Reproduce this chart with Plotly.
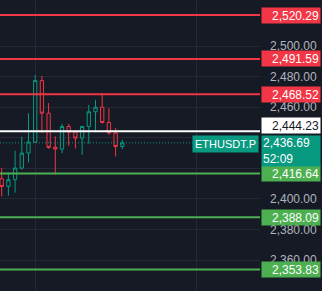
import plotly.graph_objects as go

# ---- data ----
idx = list(range(19))
opens  = [2413.2, 2408.2, 2412.6, 2420.2, 2430.0, 2437.2, 2477.4, 2456.1, 2433.9, 2432.6,
          2447.4, 2443.7, 2439.8, 2447.4, 2457.0, 2460.0, 2450.0, 2443.1, 2434.3]
highs  = [2420.4, 2417.2, 2431.5, 2440.7, 2456.1, 2481.1, 2480.5, 2462.7, 2440.9, 2449.1,
          2449.1, 2444.5, 2447.8, 2461.5, 2464.8, 2469.2, 2459.4, 2446.3, 2438.7]
lows   = [2401.7, 2402.1, 2404.1, 2419.1, 2423.9, 2436.7, 2443.1, 2432.8, 2415.9, 2430.0,
          2434.8, 2433.0, 2428.9, 2436.1, 2444.1, 2449.3, 2442.0, 2427.8, 2432.6]
closes = [2408.2, 2412.6, 2420.2, 2430.0, 2437.2, 2477.4, 2456.1, 2433.7, 2432.6, 2447.4,
          2443.7, 2439.8, 2447.4, 2457.0, 2460.0, 2450.0, 2443.1, 2434.3, 2436.69]

resistance_levels = [2520.29, 2491.59, 2468.52]
support_levels = [2416.64, 2388.09, 2353.83]
pivot_level = 2444.23
last_price = 2436.69
countdown = "52:09"
symbol = "ETHUSDT.P"
tick_values = [2340, 2360, 2380, 2400, 2420, 2440, 2460, 2480, 2500]
hidden_ticks = [2420, 2440]   # covered by price labels in the reference
vgrid_values = [5, 29]

# ---- style ----
BG = "#161a25"
GRID = "#252936"
RED = "#f23645"
GREEN = "#4caf50"
TEAL = "#089981"
FONT = "Liberation Sans, Arial, sans-serif"

fig = go.Figure()
fig.add_trace(go.Candlestick(
    x=idx, open=opens, high=highs, low=lows, close=closes,
    increasing=dict(line=dict(color=TEAL, width=1), fillcolor=BG),
    decreasing=dict(line=dict(color=RED, width=1), fillcolor=BG),
    whiskerwidth=0, showlegend=False, hoverinfo="skip",
))

shapes = []
for v in resistance_levels:
    shapes.append(dict(type="line", xref="paper", x0=0, x1=1, yref="y", y0=v, y1=v,
                       line=dict(color=RED, width=2), layer="above"))
for v in support_levels:
    shapes.append(dict(type="line", xref="paper", x0=0, x1=1, yref="y", y0=v, y1=v,
                       line=dict(color=GREEN, width=2), layer="above"))
shapes.append(dict(type="line", xref="paper", x0=0, x1=1, yref="y", y0=pivot_level, y1=pivot_level,
                   line=dict(color="#ffffff", width=2), layer="above"))
shapes.append(dict(type="line", xref="paper", x0=0, x1=1, yref="y", y0=last_price, y1=last_price,
                   line=dict(color=TEAL, width=1, dash="1px,2px"), layer="above"))

annotations = []
def price_label(v, bg, fg, text=None, yshift=0, h=13, align="right"):
    annotations.append(dict(
        xref="paper", x=1, xanchor="left", xshift=1,
        yref="y", y=v, yanchor="middle", yshift=yshift,
        text=text if text is not None else f"{v:,.2f}",
        showarrow=False, bgcolor=bg, borderpad=1, width=56, height=h, align=align,
        font=dict(family=FONT, size=12, color=fg)))

for v in resistance_levels:
    price_label(v, RED, "#ffffff")
for v in support_levels:
    price_label(v, GREEN, "#ffffff")
price_label(pivot_level, "#ffffff", "#131722", yshift=6)
price_label(last_price, TEAL, "#ffffff", text=f"{last_price:,.2f}<br>{countdown}",
            yshift=-8, h=28, align="left")
annotations.append(dict(
    xref="paper", x=1, xanchor="right", xshift=-1,
    yref="y", y=last_price, yanchor="middle", yshift=-1,
    text=symbol, showarrow=False, bgcolor=TEAL, borderpad=2,
    font=dict(family=FONT, size=11, color="#ffffff")))

fig.update_layout(
    width=322, height=291,
    margin=dict(l=0, r=62, t=0, b=0),
    paper_bgcolor=BG, plot_bgcolor=BG,
    shapes=shapes, annotations=annotations,
    xaxis=dict(range=[-0.254, 38.55], rangeslider=dict(visible=False),
               tickvals=vgrid_values, showticklabels=False, ticks="",
               showgrid=True, gridcolor=GRID, gridwidth=1, zeroline=False, showline=False,
               fixedrange=True),
    yaxis=dict(range=[2339.8, 2530.1], side="right", tickvals=tick_values,
               ticktext=["" if v in hidden_ticks else f"{v:,.2f}" for v in tick_values],
               showgrid=True, gridcolor=GRID, gridwidth=1, zeroline=False, showline=False,
               ticks="", ticklabelstandoff=9,
               tickfont=dict(family=FONT, size=12, color="#b2b5be"), fixedrange=True),
)

fig.write_html("out.html", config=dict(displayModeBar=False))
